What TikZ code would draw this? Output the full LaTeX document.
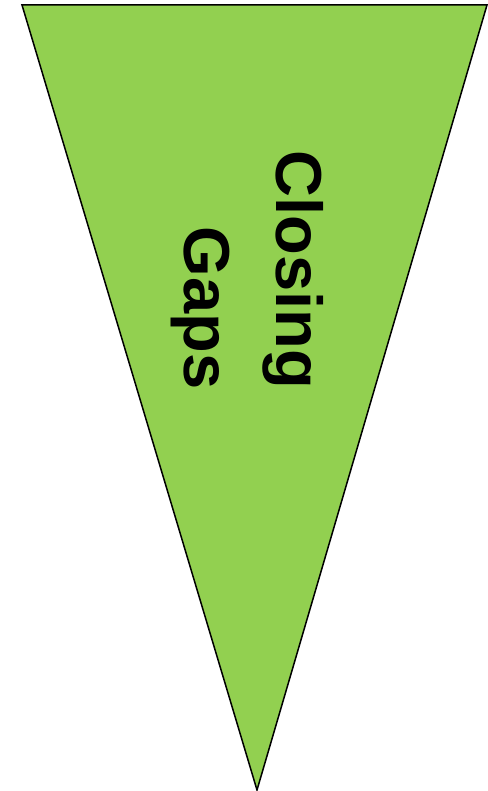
\documentclass[tikz,border=0pt]{standalone}
\usepackage{fontspec}
\setmainfont{Liberation Sans}
\usetikzlibrary{positioning}
\definecolor{gapgreen}{HTML}{92D050}

\begin{document}
\begin{tikzpicture}[
    x=1pt, y=-1pt,
    pennant/.style={
        draw=black,
        line width=1.5pt,
        fill=gapgreen,
        line join=miter
    },
    label/.style={
        rotate=-90,
        align=right,
        inner sep=0pt,
        font=\fontsize{65}{92}\selectfont\bfseries
    }
]

% --- Frame ---
\useasboundingbox (0,0) rectangle (487,791);

% --- Pennant (pointing down) ---
\coordinate (tl) at (22,5);
\coordinate (tr) at (487,5);
\coordinate (tip) at (257,790);
\draw[pennant] (tl) -- (tr) -- (tip) -- cycle;

% --- Text ---
\node[label] (txt) at (247,270) {Closing\\Gaps};

\end{tikzpicture}
\end{document}
